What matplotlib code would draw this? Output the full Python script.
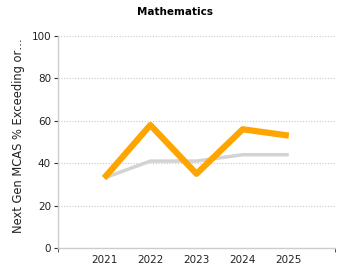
import matplotlib
matplotlib.use("Agg")
import matplotlib.pyplot as plt

# data
years = [2021, 2022, 2023, 2024, 2025]
school = [33, 58, 35, 56, 53]
state = [33, 41, 41, 44, 44]
y_ticks = [0, 20, 40, 60, 80, 100]

plt.rcParams["font.family"] = ["DejaVu Sans"]

fig = plt.figure(figsize=(3.5, 2.8), dpi=100)
ax = fig.add_axes([58 / 350, 1 - 248 / 280, 277 / 350, 212 / 280])

ax.plot(years, state, color="#d3d3d3", lw=2.5, solid_capstyle="butt", zorder=2)
ax.plot(years, school, color="#ffa500", lw=4.5, solid_capstyle="butt", zorder=3)

ax.set_xlim(2020, 2026)
ax.set_ylim(0, 100)
ax.set_yticks(y_ticks)
ax.set_xticks(years)
ax.set_xticks([2020, 2026], minor=True)
ax.tick_params(axis="x", which="major", length=0, labelsize=7.5, pad=5, colors="#222222")
ax.tick_params(axis="x", which="minor", length=3, color="#333333")
ax.tick_params(axis="y", length=3, labelsize=7.5, colors="#222222", pad=2)
ax.tick_params(axis="y", color="#333333")

ax.grid(axis="y", linestyle=(0, (1, 1.5)), color="#c8c8c8", lw=0.8)
for s in ["top", "right"]:
    ax.spines[s].set_visible(False)
for s in ["left", "bottom"]:
    ax.spines[s].set_color("#cccccc")
    ax.spines[s].set_linewidth(1)

fig.text(0.5, 1 - 12 / 280, "Mathematics", fontsize=7.5, fontweight="bold",
         ha="center", va="center")
fig.text(19 / 350, 1 - 136 / 280, "Next Gen MCAS % Exceeding or\u2026", fontsize=8.3,
         rotation=90, ha="center", va="center", color="#222222")

fig.savefig("out.png", dpi=100)
